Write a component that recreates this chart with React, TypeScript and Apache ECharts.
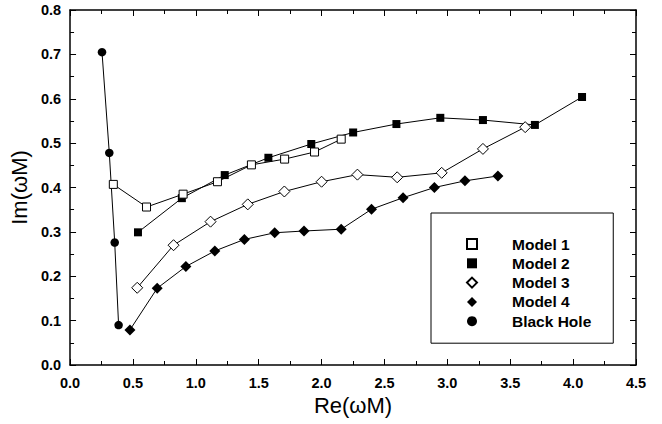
import React, { useEffect, useRef } from "react";
import * as echarts from "echarts";

const xTicks = ["0.0", "0.5", "1.0", "1.5", "2.0", "2.5", "3.0", "3.5", "4.0", "4.5"];
const yTicks = ["0.0", "0.1", "0.2", "0.3", "0.4", "0.5", "0.6", "0.7", "0.8"];

const seriesNames = ["Model 1", "Model 2", "Model 3", "Model 4", "Black Hole"];

const m1Re = [0.344, 0.608, 0.899, 1.172, 1.442, 1.706, 1.944, 2.156];
const m1Im = [0.407, 0.356, 0.385, 0.413, 0.451, 0.464, 0.48, 0.509];

const m2Re = [0.54, 0.889, 1.23, 1.577, 1.918, 2.251, 2.595, 2.944, 3.283, 3.696, 4.071];
const m2Im = [0.299, 0.376, 0.428, 0.467, 0.498, 0.524, 0.543, 0.557, 0.552, 0.541, 0.604];

const m3Re = [0.534, 0.823, 1.117, 1.413, 1.704, 2.0, 2.285, 2.601, 2.955, 3.283, 3.619];
const m3Im = [0.174, 0.27, 0.323, 0.362, 0.391, 0.413, 0.429, 0.423, 0.433, 0.487, 0.536];

const m4Re = [0.476, 0.693, 0.921, 1.151, 1.386, 1.627, 1.86, 2.156, 2.397, 2.648, 2.897, 3.14, 3.402];
const m4Im = [0.079, 0.173, 0.222, 0.257, 0.283, 0.298, 0.302, 0.306, 0.351, 0.377, 0.4, 0.415, 0.426];

const bhRe = [0.254, 0.312, 0.355, 0.386];
const bhIm = [0.705, 0.478, 0.276, 0.09];

const FONT = "'Liberation Sans', Arial, Helvetica, sans-serif";

function pairs(xs: number[], ys: number[]) {
  return xs.map((x, i) => [x, ys[i]]);
}

export default function App() {
  const ref = useRef<HTMLDivElement>(null);
  useEffect(() => {
    const chart = echarts.init(ref.current!, null, { renderer: "svg" });
    const axisCommon = {
      axisLine: { show: true, onZero: false, lineStyle: { color: "#000", width: 1.5 } },
      axisTick: { show: true, inside: true, length: 6, lineStyle: { color: "#000", width: 1 } },
      minorTick: { show: true, splitNumber: 2, length: 4, lineStyle: { color: "#000", width: 1 } },
      splitLine: { show: false },
      minorSplitLine: { show: false },
    };
    const mk = (name: string, data: number[][], symbol: string, size: number, filled: boolean) => ({
      name,
      type: "line",
      xAxisIndex: 0,
      yAxisIndex: 0,
      data,
      symbol,
      symbolSize: size,
      showSymbol: true,
      lineStyle: { color: "#000", width: 1 },
      itemStyle: filled
        ? { color: "#000", borderColor: "#000", borderWidth: 0 }
        : { color: "#fff", borderColor: "#000", borderWidth: 1 },
      emphasis: { disabled: true },
    });
    chart.setOption({
      animation: false,
      backgroundColor: "#fff",
      grid: { left: 69, right: 26, top: 10, bottom: 59, containLabel: false },
      xAxis: [
        {
          type: "value",
          min: 0,
          max: 4.5,
          interval: 0.5,
          position: "bottom",
          ...axisCommon,
          axisLabel: {
            show: true,
            margin: 10,
            color: "#000",
            fontFamily: FONT,
            fontWeight: "bold",
            fontSize: 14.5,
            formatter: (v: number) => xTicks[Math.round(v / 0.5)] ?? v.toFixed(1),
          },
          name: "Re(\u03c9M)",
          nameLocation: "middle",
          nameGap: 25,
          nameTextStyle: { color: "#000", fontFamily: FONT, fontSize: 22 },
        },
        {
          type: "value",
          min: 0,
          max: 4.5,
          interval: 0.5,
          position: "top",
          ...axisCommon,
          axisLabel: { show: false },
        },
      ],
      yAxis: [
        {
          type: "value",
          min: 0,
          max: 0.8,
          interval: 0.1,
          position: "left",
          ...axisCommon,
          axisLabel: {
            show: true,
            margin: 9,
            color: "#000",
            fontFamily: FONT,
            fontWeight: "bold",
            fontSize: 14.5,
            formatter: (v: number) => yTicks[Math.round(v / 0.1)] ?? v.toFixed(1),
          },
          name: "Im(\u03c9M)",
          nameLocation: "middle",
          nameGap: 35,
          nameTextStyle: { color: "#000", fontFamily: FONT, fontSize: 22 },
        },
        {
          type: "value",
          min: 0,
          max: 0.8,
          interval: 0.1,
          position: "right",
          ...axisCommon,
          axisLabel: { show: false },
        },
      ],
      legend: {
        orient: "vertical",
        left: 431,
        top: 213,
        borderColor: "#000",
        borderWidth: 1,
        padding: [23, 22, 14, 35],
        itemWidth: 10,
        itemHeight: 10,
        itemGap: 3.3,
        selectedMode: false,
        textStyle: {
          color: "#000",
          fontFamily: FONT,
          fontWeight: "bold",
          fontSize: 15.5,
          lineHeight: 14,
          padding: [0, 0, 0, 30],
        },
        data: [
          { name: seriesNames[0], icon: "rect" },
          { name: seriesNames[1], icon: "rect" },
          { name: seriesNames[2], icon: "diamond" },
          { name: seriesNames[3], icon: "diamond" },
          { name: seriesNames[4], icon: "circle" },
        ],
      },
      series: [
        mk(seriesNames[4], pairs(bhRe, bhIm), "circle", 8.5, true),
        mk(seriesNames[3], pairs(m4Re, m4Im), "diamond", 11, true),
        mk(seriesNames[2], pairs(m3Re, m3Im), "diamond", 11, false),
        mk(seriesNames[1], pairs(m2Re, m2Im), "rect", 8, true),
        mk(seriesNames[0], pairs(m1Re, m1Im), "rect", 8, false),
      ],
    });
    return () => chart.dispose();
  }, []);
  return (
    <div
      ref={ref}
      style={{ position: "fixed", left: 0, top: 0, width: 662, height: 424, background: "#fff" }}
    />
  );
}
